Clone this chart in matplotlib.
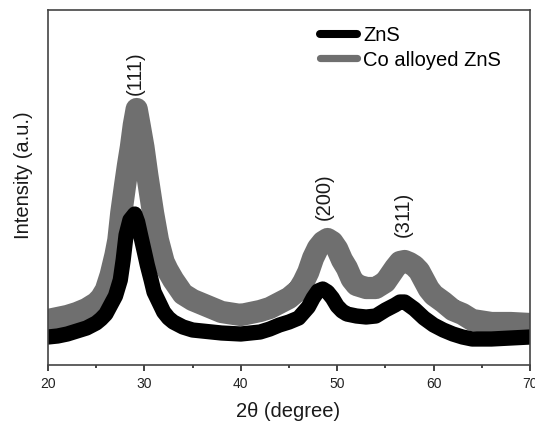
import matplotlib
matplotlib.use("Agg")
import matplotlib.pyplot as plt
from matplotlib.lines import Line2D
from matplotlib.ticker import MultipleLocator

plt.rcParams['font.family'] = ['Liberation Sans', 'DejaVu Sans']

# XRD patterns (2theta in degree, intensity in a.u.)
two_theta_zns = [20, 21, 22, 23, 24, 25, 25.5, 26, 26.5, 27, 27.5, 27.8, 28.1, 28.5, 29,
                 29.3, 29.6, 30, 30.3, 30.7, 31, 31.5, 32, 32.5, 33, 34, 35, 36, 38, 40,
                 42, 43, 44, 45, 46, 47, 47.5, 48, 48.5, 49, 49.5, 50, 50.5, 51, 52, 53,
                 54, 55, 56, 56.5, 57, 58, 59, 60, 61, 62, 63, 64, 66, 68, 70]
intensity_zns = [28, 29, 31, 34, 37, 42, 46, 51, 60, 69, 85, 105, 130, 145, 151,
                 143, 130, 113, 100, 85, 73, 63, 53, 47, 43, 38, 35, 34, 32, 31,
                 33, 36, 40, 43, 47, 58, 67, 74, 76, 73, 67, 59, 54, 51, 49, 48,
                 49, 55, 60, 63, 63, 56, 47, 40, 35, 31, 28, 26, 26, 27, 28]

two_theta_co = [20, 21, 22, 23, 24, 25, 25.5, 26, 26.5, 27, 27.3, 27.6, 28, 28.3, 28.6,
                28.9, 29.2, 29.5, 29.9, 30.3, 30.9, 31.4, 32, 32.4, 33, 34, 35, 36, 37,
                38, 40, 41, 42, 43, 44, 45, 46, 46.5, 47, 47.5, 48, 48.5, 49, 49.5, 50,
                50.5, 51, 51.5, 52, 53, 54, 55, 55.5, 56, 56.5, 57, 57.5, 58, 58.5, 59,
                59.5, 60, 61, 62, 63, 64, 66, 68, 70]
intensity_co = [45, 47, 49, 52, 56, 62, 67, 75, 90, 110, 125, 152, 180, 200, 218,
                240, 256, 240, 218, 190, 152, 125, 103, 95, 85, 71, 65, 61, 57,
                53, 50, 52, 54, 57, 62, 67, 75, 83, 93, 107, 117, 123, 126, 123, 116,
                105, 97, 86, 80, 77, 77, 83, 90, 97, 103, 104, 102, 99, 94, 85,
                76, 70, 63, 55, 51, 45, 42, 42, 41]

# hkl reflections: label, 2theta, label base height
peak_labels = ['(111)', '(200)', '(311)']
peak_pos = [29.0, 48.7, 56.9]
peak_label_y = [270, 145, 128]

gray = '#6f6f6f'

fig = plt.figure(figsize=(5.35, 4.23), dpi=100)
ax = fig.add_axes([0.0897, 0.1371, 0.901, 0.8392])

ax.plot(two_theta_co, intensity_co, color=gray, lw=16, solid_joinstyle='round',
        solid_capstyle='round')
ax.plot(two_theta_zns, intensity_zns, color='black', lw=11, solid_joinstyle='round',
        solid_capstyle='round')

for lab, x, y in zip(peak_labels, peak_pos, peak_label_y):
    ax.text(x, y, lab, rotation=90, ha='center', va='bottom', fontsize=14.5,
            color='#1a1a1a')

ax.set_xlim(20, 70)
ax.set_ylim(0, 355)
ax.xaxis.set_major_locator(MultipleLocator(10))
ax.xaxis.set_minor_locator(MultipleLocator(5))
ax.tick_params(axis='x', which='major', direction='out', length=4.5, width=1.2,
               pad=4, labelsize=10, colors='#222222')
ax.tick_params(axis='x', which='minor', direction='out', length=2.5, width=1.2,
               colors='#222222')
ax.set_yticks([])
for sp in ax.spines.values():
    sp.set_color('#444444')
    sp.set_linewidth(1.2)

ax.set_xlabel('2θ (degree)', fontsize=14.5, color='#1a1a1a')
ax.xaxis.set_label_coords(0.498, -0.103)
ax.set_ylabel('Intensity (a.u.)', fontsize=14.5, color='#1a1a1a')
ax.yaxis.set_label_coords(-0.031, 0.535)

handles = [Line2D([], [], color='black', lw=5.8, solid_capstyle='round'),
           Line2D([], [], color=gray, lw=5.2, solid_capstyle='round')]
ax.legend(handles, ['ZnS', 'Co alloyed ZnS'], loc='upper left',
          bbox_to_anchor=(0.564, 0.955), frameon=False, fontsize=14.5,
          handlelength=1.85, handletextpad=0.3, labelspacing=0.275,
          borderaxespad=0, borderpad=0)

fig.savefig('out.png', dpi=100)
